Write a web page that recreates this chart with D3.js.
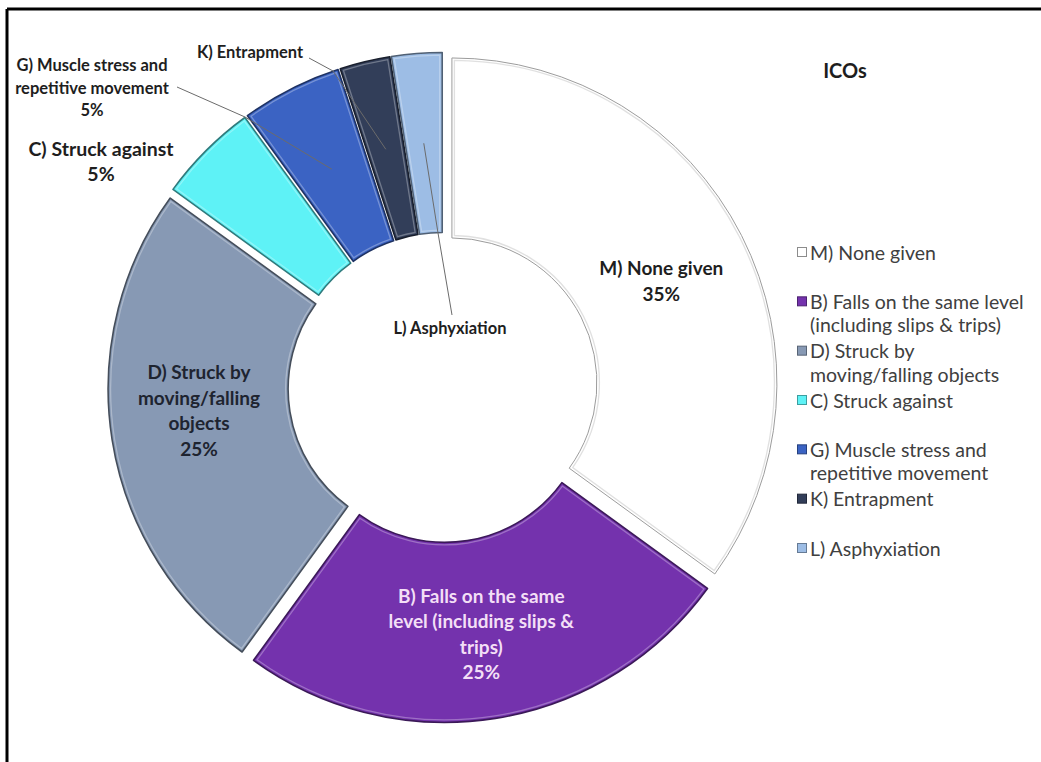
<!DOCTYPE html>
<html>
<head>
<meta charset="utf-8">
<script src="https://cdn.jsdelivr.net/npm/d3@7"></script>
<style>
  html, body { margin: 0; padding: 0; background: #ffffff; }
  svg { display: block; font-family: Lato, "Open Sans", sans-serif; }
</style>
</head>
<body>
<svg id="chart" width="1041" height="762"></svg>
<script>
// ---- data ----
const title = "ICOs";
const categories = [
  "M) None given",
  "B) Falls on the same level (including slips & trips)",
  "D) Struck by moving/falling objects",
  "C) Struck against",
  "G) Muscle stress and repetitive movement",
  "K) Entrapment",
  "L) Asphyxiation"
];
const counts = [14, 10, 10, 2, 2, 1, 1];
const showPercent = [true, true, true, true, true, false, false];
// wrapped text of the data labels and legend entries
const labelLines = [
  ["M) None given"],
  ["B) Falls on the same", "level (including slips &", "trips)"],
  ["D) Struck by", "moving/falling", "objects"],
  ["C) Struck against"],
  ["G) Muscle stress and", "repetitive movement"],
  ["K) Entrapment"],
  ["L) Asphyxiation"]
];
const legendLines = [
  ["M) None given"],
  ["B) Falls on the same level", "(including slips & trips)"],
  ["D) Struck by", "moving/falling objects"],
  ["C) Struck against"],
  ["G) Muscle stress and", "repetitive movement"],
  ["K) Entrapment"],
  ["L) Asphyxiation"]
];

// ---- styling ----
const colors = ["#ffffff", "#7432ad", "#8799b4", "#5ef2f6", "#3b63c3", "#323e59", "#9dbde5"];
const labelColors = ["#1e1e1e", "#f3dff6", "#1e2430", "#1e1e1e", "#1e1e1e", "#1e1e1e", "#1e1e1e"];

const svg = d3.select("#chart");
const W = 1041, H = 762;
const cx = 443, cy = 387.5;
const rInner = 145, rOuter = 325, explode = 10;

// frame lines (top and left)
svg.append("line").attr("x1", 7).attr("y1", 9).attr("x2", W).attr("y2", 9)
  .attr("stroke", "#000").attr("stroke-width", 3);
svg.append("line").attr("x1", 7).attr("y1", 9).attr("x2", 7).attr("y2", H)
  .attr("stroke", "#000").attr("stroke-width", 3);

const total = d3.sum(counts);
const pie = d3.pie().sort(null).value(d => d)(counts);
const arc = d3.arc().innerRadius(rInner).outerRadius(rOuter);
const bevel = d3.arc().innerRadius(rInner + 2.5).outerRadius(rOuter - 2.5)
  .padRadius(rOuter).padAngle(5 / rOuter);

function shift(d) {
  const a = (d.startAngle + d.endAngle) / 2;
  return [cx + explode * Math.sin(a), cy - explode * Math.cos(a)];
}

const slices = svg.append("g").selectAll("g.slice")
  .data(pie).join("g").attr("class", "slice")
  .attr("transform", d => { const s = shift(d); return `translate(${s[0]},${s[1]})`; });

slices.append("path")
  .attr("d", arc)
  .attr("fill", (d, i) => colors[i])
  .attr("stroke", (d, i) => i === 0 ? "#9c9c9c" : d3.color(colors[i]).darker(1.9).formatHex())
  .attr("stroke-width", (d, i) => i === 0 ? 1 : 1.6)
  .attr("stroke-linejoin", "round");

// soft bevel highlight inside each coloured slice
slices.append("path")
  .attr("d", bevel)
  .attr("fill", "none")
  .attr("stroke", (d, i) => i === 0 ? "#d8d8d8" : "#ffffff")
  .attr("stroke-opacity", (d, i) => i === 0 ? 0.8 : 0.3)
  .attr("stroke-width", 1.3);

function centroidAbs(d) {
  const s = shift(d);
  const c = arc.centroid(d);
  return [s[0] + c[0], s[1] + c[1]];
}
const pct = v => Math.round(v / total * 100) + "%";

// ---- leader lines for the small slices ----
const leaders = [
  { i: 4, from: [177, 87], via: [245, 117] },
  { i: 5, from: [309, 58], via: [333, 71] },
  { i: 6, from: [452, 315], via: [438, 233] }
];
svg.append("g").selectAll("path").data(leaders).join("path")
  .attr("d", l => d3.line()([l.from, l.via, centroidAbs(pie[l.i])]))
  .attr("fill", "none").attr("stroke", "#6b6b6b").attr("stroke-width", 1);

// ---- data labels ----
const outside = {
  3: { x: 101, y: 148, size: 19.5, lh: 25 },
  4: { x: 92, y: 65, size: 16.5, lh: 22.5 },
  5: { x: 250, y: 52, size: 16.5, lh: 22 },
  6: { x: 450, y: 328, size: 16.5, lh: 22 }
};
const insideShift = { 2: [-2, -20] };
const labels = svg.append("g").attr("font-weight", "bold").attr("text-anchor", "middle");
pie.forEach((d, i) => {
  const lines = labelLines[i].concat(showPercent[i] ? [pct(d.value)] : []);
  let x, y0, size, lh;
  if (outside[i]) {
    ({ x, size, lh } = outside[i]);
    y0 = outside[i].y;
  } else {
    const c = centroidAbs(d);
    const o = insideShift[i] || [0, 0];
    size = 19; lh = 25.5;
    x = c[0] + o[0];
    y0 = c[1] + o[1] + 4 - (lines.length - 1) * lh / 2;
  }
  const t = labels.append("text").attr("font-size", size).attr("fill", labelColors[i]);
  lines.forEach((s, k) => {
    t.append("tspan").attr("x", x).attr("y", y0 + k * lh)
      .attr("dominant-baseline", "central").text(s);
  });
});

// ---- title ----
svg.append("text").attr("x", 845).attr("y", 70)
  .attr("text-anchor", "middle").attr("dominant-baseline", "central")
  .attr("font-size", 20).attr("font-weight", "bold").attr("fill", "#1e1e1e")
  .text(title);

// ---- legend ----
const legendY = d3.scalePoint().domain(categories).range([252, 548]);
const legend = svg.append("g");
categories.forEach((c, i) => {
  const y = legendY(c);
  legend.append("rect").attr("x", 797.5).attr("y", y - 4.5).attr("width", 9).attr("height", 9)
    .attr("fill", colors[i])
    .attr("stroke", i === 0 ? "#8c8c8c" : d3.color(colors[i]).darker(1.2).formatHex())
    .attr("stroke-width", 1);
  const t = legend.append("text").attr("font-size", 19.5).attr("fill", "#404040");
  legendLines[i].forEach((s, k) => {
    t.append("tspan").attr("x", 810).attr("y", y + k * 23.5)
      .attr("dominant-baseline", "central").text(s);
  });
});
</script>
</body>
</html>
